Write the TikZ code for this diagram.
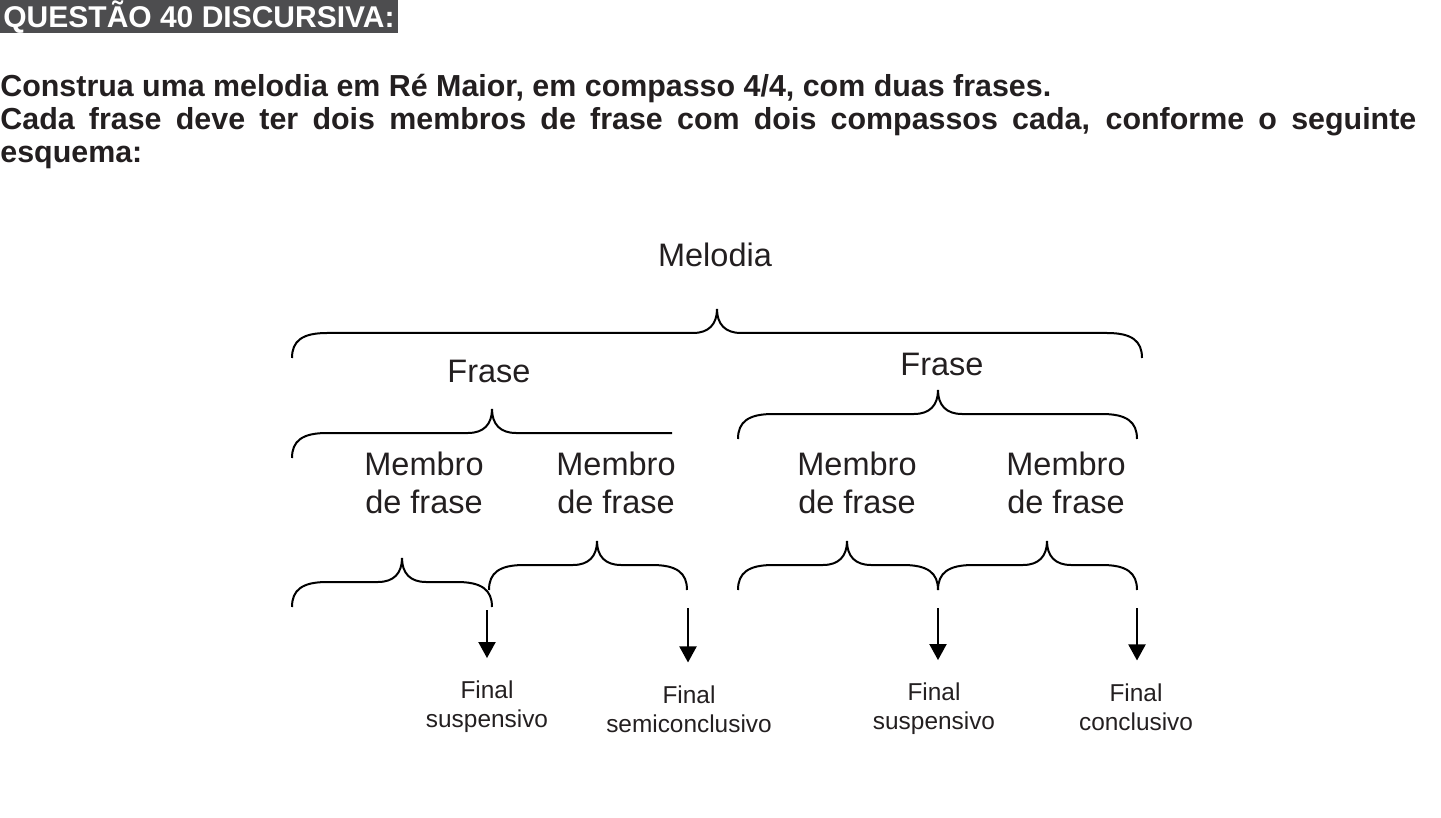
\documentclass[tikz,border=0pt]{standalone}
\usepackage{fontspec}
\setmainfont{Liberation Sans}
\usetikzlibrary{arrows.meta, positioning}
\definecolor{barGray}{HTML}{4D4D4F}
\definecolor{inkGray}{HTML}{231F20}
% curly brace: left x, cusp x, right x, level y
\newcommand{\melbrace}[4]{%
  \draw[curly] (#1,#4+25) .. controls (#1,#4+8) and (#1+10,#4) .. (#1+35,#4)
    -- (#2-24,#4) .. controls (#2-8,#4) and (#2,#4-9) .. (#2,#4-24)
    .. controls (#2,#4-9) and (#2+8,#4) .. (#2+24,#4)
    -- (#3-35,#4) .. controls (#3-10,#4) and (#3,#4+8) .. (#3,#4+25);}

\begin{document}
\begin{tikzpicture}[
    x=0.5pt, y=-0.5pt,
    curly/.style={line width=1pt, draw=black},
    part/.style={align=center, text=inkGray, font=\fontsize{16.25}{19}\selectfont},
    ending/.style={align=center, text=inkGray, font=\fontsize{12.2}{14.5}\selectfont},
    arrow/.style={-{Triangle[width=8.5pt, length=8pt]}, line width=1pt, shorten >=8pt},
]
    \useasboundingbox (0,0) rectangle (1441,818);

    % Heading
    \node[anchor=north west, fill=barGray, text=white, inner xsep=1.5pt, inner ysep=0pt,
          text height=12.5pt, text depth=1.5pt, minimum height=16.5pt,
          font=\bfseries\fontsize{15}{17}\selectfont] (titulo) at (0,0) {QUESTÃO 40 DISCURSIVA:};
    \node[anchor=north west, text width=708pt, align=justify, inner sep=0pt, text=inkGray,
          font=\bfseries\fontsize{15.2}{16.5}\selectfont] (enunciado) at (0,74)
          {Construa uma melodia em Ré Maior, em compasso 4/4, com duas frases.\\
           Cada frase deve ter dois membros de frase com dois compassos cada, conforme o seguinte\linebreak esquema:};

    % Labels
    \node[part] (melodia) at (715,255) {Melodia};
    \node[part] (fraseA) at (489,371) {Frase};
    \node[part] (fraseB) at (942,364) {Frase};
    \node[part] (membroA) at (424,483) {Membro\\de frase};
    \node[part] (membroB) at (616,483) {Membro\\de frase};
    \node[part] (membroC) at (857,483) {Membro\\de frase};
    \node[part] (membroD) at (1066,483) {Membro\\de frase};

    \node[ending] (finalA) at (487,707) {Final\\suspensivo};
    \node[ending] (finalB) at (689,709) {Final\\semiconclusivo};
    \node[ending] (finalC) at (934,709) {Final\\suspensivo};
    \node[ending] (finalD) at (1136,707) {Final\\conclusivo};

    % Braces
    \melbrace{292}{717}{1142}{333}
    \draw[curly] (292,458) .. controls (292,441) and (302,433) .. (327,433)
        -- (468,433) .. controls (484,433) and (492,424) .. (492,409)
        .. controls (492,424) and (500,433) .. (516,433) -- (672,433);
    \melbrace{738}{938}{1137}{414}
    \melbrace{292}{402}{492}{582}
    \melbrace{489}{597}{687}{565}
    \melbrace{738}{847}{938}{565}
    \melbrace{938}{1047}{1137}{565}

    % Arrows
    \coordinate (fimA) at (487,610);
    \coordinate (fimB) at (688,608);
    \coordinate (fimC) at (938,608);
    \coordinate (fimD) at (1137,608);
    \draw[arrow] (fimA) -- (fimA |- finalA.north);
    \draw[arrow] (fimB) -- (fimB |- finalB.north);
    \draw[arrow] (fimC) -- (fimC |- finalC.north);
    \draw[arrow] (fimD) -- (fimD |- finalD.north);
\end{tikzpicture}
\end{document}
